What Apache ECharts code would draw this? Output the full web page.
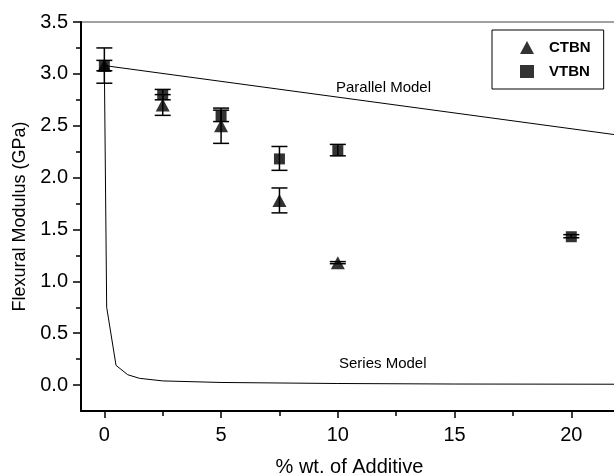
<!DOCTYPE html>
<html><head><meta charset="utf-8">
<script src="https://cdn.jsdelivr.net/npm/echarts@6/dist/echarts.min.js"></script>
<style>html,body{margin:0;padding:0;background:#fff}#c{width:614px;height:473px}</style>
</head><body><div id="c"></div>
<script>
// ---- data ----
const ctbnX = [0, 2.5, 5, 7.5, 10];
const ctbnY = [3.08, 2.70, 2.50, 1.78, 1.18];
const ctbnLow = [2.91, 2.60, 2.33, 1.66, 1.17];
const ctbnHigh = [3.25, 2.80, 2.67, 1.90, 1.19];

const vtbnX = [0, 2.5, 5, 7.5, 10, 20];
const vtbnY = [3.08, 2.80, 2.59, 2.18, 2.26, 1.43];
const vtbnLow = [3.03, 2.75, 2.54, 2.07, 2.21, 1.42];
const vtbnHigh = [3.13, 2.85, 2.65, 2.30, 2.32, 1.45];

const parallelX = [0, 22];
const parallelY = [3.08, 2.41];

const seriesModelX = [0, 0.1, 0.5, 1.0, 1.5, 2.5, 5, 10, 15, 22];
const seriesModelY = [3.08, 0.75, 0.19, 0.10, 0.065, 0.04, 0.025, 0.015, 0.01, 0.008];

const xMajorTicks = [0, 5, 10, 15, 20];
const xMinorTicks = [2.5, 7.5, 12.5, 17.5];
const yMajorTicks = [0, 0.5, 1.0, 1.5, 2.0, 2.5, 3.0, 3.5];
const yMinorTicks = [0.25, 0.75, 1.25, 1.75, 2.25, 2.75, 3.25];

const xTitle = '% wt. of Additive';
const yTitle = 'Flexural Modulus (GPa)';

// ---- build ----
const zip = (a, b) => a.map((v, i) => [v, b[i]]);
const zip3 = (a, b, c) => a.map((v, i) => [v, b[i], c[i]]);
const FONT = 'Liberation Sans, Arial, sans-serif';

function errRender(capHalf) {
  return function (params, api) {
    const x = api.value(0), lo = api.value(1), hi = api.value(2);
    const pLo = api.coord([x, lo]), pHi = api.coord([x, hi]);
    const st = { stroke: '#000', lineWidth: 1.5 };
    return {
      type: 'group',
      children: [
        { type: 'line', shape: { x1: pLo[0], y1: pLo[1], x2: pHi[0], y2: pHi[1] }, style: st },
        { type: 'line', shape: { x1: pLo[0] - capHalf, y1: pLo[1], x2: pLo[0] + capHalf, y2: pLo[1] }, style: st },
        { type: 'line', shape: { x1: pHi[0] - capHalf, y1: pHi[1], x2: pHi[0] + capHalf, y2: pHi[1] }, style: st }
      ]
    };
  };
}

const chart = echarts.init(document.getElementById('c'), null, { renderer: 'canvas' });
chart.setOption({
  animation: false,
  backgroundColor: '#fff',
  grid: { left: 81, top: 22, bottom: 62, right: -4, show: true, borderColor: '#444', borderWidth: 1,
    containLabel: false, outerBoundsMode: 'none' },
  legend: {
    orient: 'vertical', left: 492, top: 30,
    borderColor: '#000', borderWidth: 1,
    padding: [10, 13, 10, 28], itemGap: 9, itemWidth: 14, itemHeight: 13,
    textStyle: { fontFamily: FONT, fontWeight: 'bold', fontSize: 15, color: '#000', padding: [0, 0, 0, 10] },
    data: [{ name: 'CTBN', icon: 'triangle' }, { name: 'VTBN', icon: 'rect' }]
  },
  xAxis: [
    {
      type: 'value', min: -1, max: 22, position: 'bottom',
      axisLine: { show: true, onZero: false, lineStyle: { color: '#000', width: 2 } },
      axisTick: { show: true, customValues: xMajorTicks, length: 7, lineStyle: { color: '#000', width: 1.5 } },
      axisLabel: { customValues: xMajorTicks, margin: 14, fontFamily: FONT, fontSize: 20, color: '#000' },
      splitLine: { show: false },
      name: xTitle, nameLocation: 'middle', nameGap: 46,
      nameTextStyle: { fontFamily: FONT, fontSize: 20, color: '#000' }
    },
    {
      type: 'value', min: -1, max: 22, position: 'bottom',
      axisLine: { show: false, onZero: false },
      axisTick: { show: true, customValues: xMinorTicks, length: 5, lineStyle: { color: '#000', width: 1.5 } },
      axisLabel: { show: false }, splitLine: { show: false }
    }
  ],
  yAxis: [
    {
      type: 'value', min: -0.25, max: 3.5, position: 'left',
      axisLine: { show: true, onZero: false, lineStyle: { color: '#000', width: 2 } },
      axisTick: { show: true, customValues: yMajorTicks, length: 8, lineStyle: { color: '#000', width: 1.5 } },
      axisLabel: { customValues: yMajorTicks, margin: 13, fontFamily: FONT, fontSize: 20, color: '#000',
        formatter: v => v.toFixed(1) },
      splitLine: { show: false },
      name: yTitle, nameLocation: 'middle', nameGap: 52, nameRotate: 90,
      nameTextStyle: { fontFamily: FONT, fontSize: 18, color: '#000' }
    },
    {
      type: 'value', min: -0.25, max: 3.5, position: 'left',
      axisLine: { show: false, onZero: false },
      axisTick: { show: true, customValues: yMinorTicks, length: 5, lineStyle: { color: '#000', width: 1.5 } },
      axisLabel: { show: false }, splitLine: { show: false }
    }
  ],
  graphic: [
    { type: 'text', left: 336, top: 80, style: { text: 'Parallel Model', fontFamily: FONT, fontSize: 15, fill: '#000' } },
    { type: 'text', left: 339, top: 356, style: { text: 'Series Model', fontFamily: FONT, fontSize: 15, fill: '#000' } }
  ],
  series: [
    { name: 'Parallel', type: 'line', data: zip(parallelX, parallelY), showSymbol: false, symbol: 'none',
      lineStyle: { color: '#000', width: 1 }, z: 2 },
    { name: 'SeriesModel', type: 'line', data: zip(seriesModelX, seriesModelY), showSymbol: false, symbol: 'none',
      lineStyle: { color: '#000', width: 1 }, z: 2 },
    { name: 'CTBN err', type: 'custom', renderItem: errRender(8), data: zip3(ctbnX, ctbnLow, ctbnHigh), z: 3 },
    { name: 'VTBN err', type: 'custom', renderItem: errRender(8), data: zip3(vtbnX, vtbnLow, vtbnHigh), z: 3 },
    { name: 'CTBN', type: 'scatter', symbol: 'triangle', symbolSize: [14, 13], data: zip(ctbnX, ctbnY),
      itemStyle: { color: '#000' }, z: 4 },
    { name: 'VTBN', type: 'scatter', symbol: 'rect', symbolSize: 11, data: zip(vtbnX, vtbnY),
      itemStyle: { color: '#000' }, z: 5 }
  ]
});
</script></body></html>
